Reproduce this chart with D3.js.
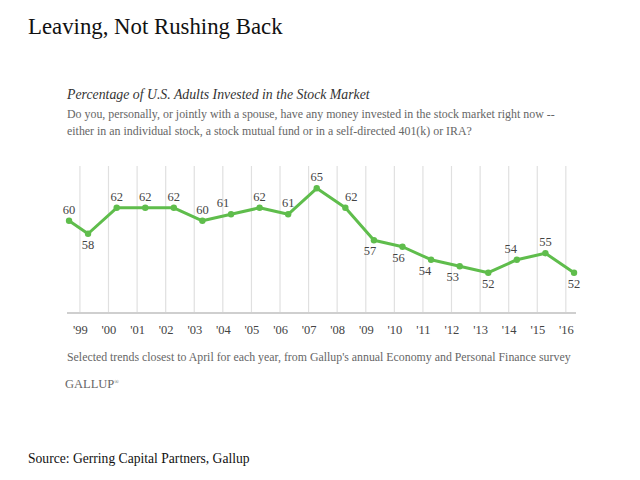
<!DOCTYPE html>
<html>
<head>
<meta charset="utf-8">
<script src="https://cdn.jsdelivr.net/npm/d3@7"></script>
<style>
  body { margin: 0; background: #fff; }
  svg { display: block; }
  svg text { font-family: 'Liberation Serif', 'Times New Roman', serif; }
</style>
</head>
<body>
<svg id="chart"></svg>
<script>
const w = 640;
const h = 480;
const serif = "'Liberation Serif', 'Times New Roman', serif";

// survey dates (year, month) and % invested
const surveyDates = [
  [1998, 8], [1999, 4], [2000, 4], [2001, 4], [2002, 4], [2003, 4], [2004, 4],
  [2005, 4], [2006, 4], [2007, 4], [2008, 4], [2009, 4], [2010, 4], [2011, 4],
  [2012, 4], [2013, 4], [2014, 4], [2015, 4], [2016, 4]
];
const pctInvested = [60, 58, 62, 62, 62, 60, 61, 62, 61, 65, 62, 57, 56, 54, 53, 52, 54, 55, 52];
const tickYears = d3.range(1999, 2017);

// label placement (layout only)
const labelSide = ['a', 'b', 'a', 'a', 'a', 'a', 'a', 'a', 'a', 'a', 'a', 'b', 'b', 'b', 'b', 'b', 'a', 'a', 'b'];
const labelDx = [0, 0, 0, 0, 0, 0, -8, 0, 0, 0, 6, -4, -4, -6, -7, 0, -6, 0, 0];

const data = surveyDates.map((d, i) => ({
  date: new Date(d[0], d[1] - 1, 15),
  value: pctInvested[i]
}));

const svg = d3.select('#chart')
  .attr('width', w)
  .attr('height', h);

const xScale = d3.scaleTime()
  .domain([new Date(1998, 6, 20), new Date(2016, 4, 10)])
  .range([67, 576]);

const yScale = d3.scaleLinear()
  .domain([45.8, 68])
  .range([313, 168.8]);

function label(x, y, size, color, txt, italic) {
  return svg.append('text')
    .attr('x', x).attr('y', y)
    .attr('font-family', serif)
    .attr('font-size', size)
    .attr('font-style', italic ? 'italic' : 'normal')
    .attr('fill', color)
    .text(txt);
}

// text blocks
label(28, 34, 22.8, '#111', 'Leaving, Not Rushing Back');
label(67, 99, 13.8, '#333', 'Percentage of U.S. Adults Invested in the Stock Market', true);
label(67, 118, 11.9, '#666', 'Do you, personally, or jointly with a spouse, have any money invested in the stock market right now --');
label(67, 135, 11.9, '#666', 'either in an individual stock, a stock mutual fund or in a self-directed 401(k) or IRA?');

// gridlines
svg.append('g')
  .selectAll('line')
  .data(tickYears)
  .enter()
  .append('line')
  .attr('x1', d => xScale(new Date(d, 0, 1)))
  .attr('x2', d => xScale(new Date(d, 0, 1)))
  .attr('y1', 166)
  .attr('y2', 313)
  .style('stroke', '#e0e0e0')
  .style('stroke-width', 1.2);

// x axis
const xAxis = d3.axisBottom()
  .scale(xScale)
  .tickValues(tickYears.map(y => new Date(y, 0, 1)))
  .tickFormat(d3.timeFormat("'%y"))
  .tickSize(0)
  .tickPadding(12);

const gx = svg.append('g')
  .attr('transform', `translate(0,313)`)
  .call(xAxis)
  .attr('font-family', serif)
  .attr('font-size', 12.5);
gx.select('.domain').remove();
gx.selectAll('text').attr('fill', '#444');

svg.append('line')
  .attr('x1', xScale.range()[0]).attr('x2', xScale.range()[1])
  .attr('y1', 313).attr('y2', 313)
  .style('stroke', '#cfcfcf')
  .style('stroke-width', 2);

// line + points
const line = d3.line()
  .x(d => xScale(d.date))
  .y(d => yScale(d.value));

svg.append('path')
  .datum(data)
  .attr('d', line)
  .style('fill', 'none')
  .style('stroke', '#5fbd4c')
  .style('stroke-width', 3)
  .style('stroke-linejoin', 'round');

svg.selectAll('circle.pt')
  .data(data)
  .enter()
  .append('circle')
  .attr('class', 'pt')
  .attr('cx', d => xScale(d.date))
  .attr('cy', d => yScale(d.value))
  .attr('r', 3.2)
  .style('fill', '#5fbd4c');

svg.selectAll('text.lbl')
  .data(data)
  .enter()
  .append('text')
  .attr('class', 'lbl')
  .attr('x', (d, i) => xScale(d.date) + labelDx[i])
  .attr('y', (d, i) => yScale(d.value) + (labelSide[i] === 'a' ? -7 : 15))
  .attr('text-anchor', 'middle')
  .attr('font-family', serif)
  .attr('font-size', 12.5)
  .attr('fill', '#444')
  .text(d => d.value);

// footer
label(67, 361, 11.85, '#666', "Selected trends closest to April for each year, from Gallup's annual Economy and Personal Finance survey");

const brand = label(65, 388, 12.5, '#666', '');
brand.append('tspan').text('GALLUP');
brand.append('tspan').attr('dy', -4).attr('font-size', 6).text('®');

label(28, 463, 13.6, '#111', 'Source: Gerring Capital Partners, Gallup');
</script>
</body>
</html>
